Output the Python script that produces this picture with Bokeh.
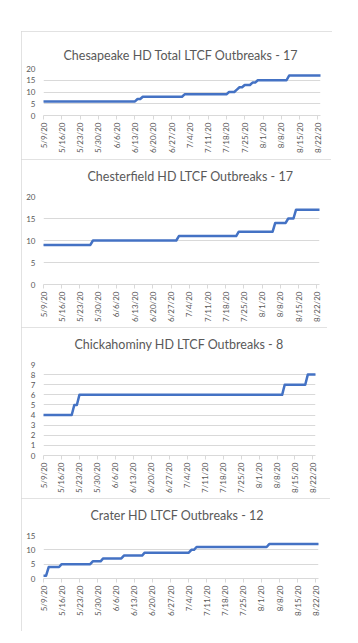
from datetime import date
from math import pi
from bokeh.plotting import figure
from bokeh.layouts import column
from bokeh.models import Range1d, FixedTicker, Title
from bokeh.embed import file_html
from bokeh.resources import INLINE

# ---------------- data ----------------
tick_labels = ["5/9/20", "5/16/20", "5/23/20", "5/30/20", "6/6/20", "6/13/20", "6/20/20",
               "6/27/20", "7/4/20", "7/11/20", "7/18/20", "7/25/20", "8/1/20", "8/8/20",
               "8/15/20", "8/22/20"]

chesapeake_title = "Chesapeake HD Total LTCF Outbreaks  - 17"
chesapeake_dates = ["5/9", "6/13", "6/14", "6/15", "6/16", "7/1", "7/2", "7/18", "7/19", "7/21",
                    "7/22", "7/23", "7/24", "7/25", "7/27", "7/28", "7/29", "7/30", "8/10",
                    "8/11", "8/23"]
chesapeake_values = [6, 6, 7, 7, 8, 8, 9, 9, 10, 10, 11, 12, 12, 13, 13, 14, 14, 15, 15, 17, 17]

chesterfield_title = "Chesterfield HD LTCF Outbreaks - 17"
chesterfield_dates = ["5/9", "5/27", "5/28", "6/29", "6/30", "7/22", "7/23", "8/5", "8/6",
                      "8/10", "8/11", "8/13", "8/14", "8/23"]
chesterfield_values = [9, 9, 10, 10, 11, 11, 12, 12, 14, 14, 15, 15, 17, 17]

chickahominy_title = "Chickahominy HD LTCF Outbreaks - 8"
chickahominy_dates = ["5/9", "5/20", "5/21", "5/22", "5/23", "8/10", "8/11", "8/19", "8/20", "8/23"]
chickahominy_values = [4, 4, 5, 5, 6, 6, 7, 7, 8, 8]

crater_title = "Crater HD LTCF Outbreaks - 12"
crater_dates = ["5/9", "5/10", "5/11", "5/15", "5/16", "5/27", "5/28", "5/31", "6/1", "6/8",
                "6/9", "6/16", "6/17", "7/4", "7/5", "7/6", "7/7", "8/3", "8/4", "8/23"]
crater_values = [1, 1, 4, 4, 5, 5, 6, 6, 7, 7, 8, 8, 9, 9, 10, 10, 11, 11, 12, 12]

BASE = date(2020, 5, 9)


def day(s):
    parts = [int(v) for v in s.split("/")]
    return (date(2020, parts[0], parts[1]) - BASE).days


tick_days = [day(t.rsplit("/", 1)[0]) for t in tick_labels]
last_day = day("8/23")

GREY = "#d9d9d9"
TXT = "#595959"
BLUE = "#4472C4"
FONT = "Lato"


def panel(title, dates, values, w, h, left, right, top, bottom, ymax, ystep,
          t_offset, t_standoff, gap):
    p = figure(width=w, height=h, output_backend="svg", toolbar_location=None,
               x_range=Range1d(0, last_day), y_range=Range1d(0, ymax),
               min_border_left=left, min_border_right=right,
               min_border_top=top, min_border_bottom=bottom)
    if gap > 0:
        # blank spacer between the plot area and the title
        p.add_layout(Title(text=" ", text_font_size="2px", text_color="white",
                           standoff=gap), "above")
    p.title.text = title
    p.title.align = "left"
    p.title.offset = t_offset
    p.title.vertical_align = "bottom"
    p.title.standoff = t_standoff
    p.title.text_font = FONT
    p.title.text_font_size = "12.5px"
    p.title.text_font_style = "normal"
    p.title.text_color = TXT
    p.outline_line_color = None
    p.background_fill_color = "white"
    p.border_fill_color = "white"
    p.styles = {"outline": "1px solid " + GREY, "outline-offset": "-1px"}

    p.xgrid.grid_line_color = None
    p.ygrid.grid_line_color = GREY
    p.ygrid.grid_line_width = 1

    xa = p.xaxis[0]
    xa.ticker = FixedTicker(ticks=tick_days)
    xa.major_label_overrides = {d: lab for d, lab in zip(tick_days, tick_labels)}
    xa.major_label_orientation = pi / 2
    xa.major_label_text_font = FONT
    xa.major_label_text_font_size = "8px"
    xa.major_label_text_color = TXT
    xa.major_label_standoff = 3
    xa.axis_line_color = GREY
    xa.major_tick_line_color = GREY
    xa.major_tick_out = 4
    xa.major_tick_in = 0
    xa.minor_tick_line_color = None

    ya = p.yaxis[0]
    ya.ticker = FixedTicker(ticks=list(range(0, ymax + 1, ystep)))
    ya.major_label_text_font = FONT
    ya.major_label_text_font_size = "8px"
    ya.major_label_text_color = TXT
    ya.major_label_standoff = 8
    ya.axis_line_color = None
    ya.major_tick_line_color = None
    ya.major_tick_out = 0
    ya.major_tick_in = 0
    ya.minor_tick_line_color = None

    p.line([day(d) for d in dates], values, line_color=BLUE, line_width=2.5,
           line_join="round", line_cap="round")
    return p


p1 = panel(chesapeake_title, chesapeake_dates, chesapeake_values,
           311, 128, 22, 12, 37, 44, 20, 5, 20, 12, 0)
p2 = panel(chesterfield_title, chesterfield_dates, chesterfield_values,
           310, 168, 22, 12, 37, 43, 20, 5, 44, 0, 9)
p3 = panel(chickahominy_title, chickahominy_dates, chickahominy_values,
           306, 171, 18, 11, 37, 43, 9, 1, 31, 0, 9)
p4 = panel(crater_title, crater_dates, crater_values,
           309, 133, 22, 11, 37, 53, 15, 5, 47, 0, 9)

layout = column(p1, p2, p3, p4, margin=(31, 0, 0, 21), spacing=0)

with open("out.html", "w") as f:
    f.write(file_html(layout, INLINE))
